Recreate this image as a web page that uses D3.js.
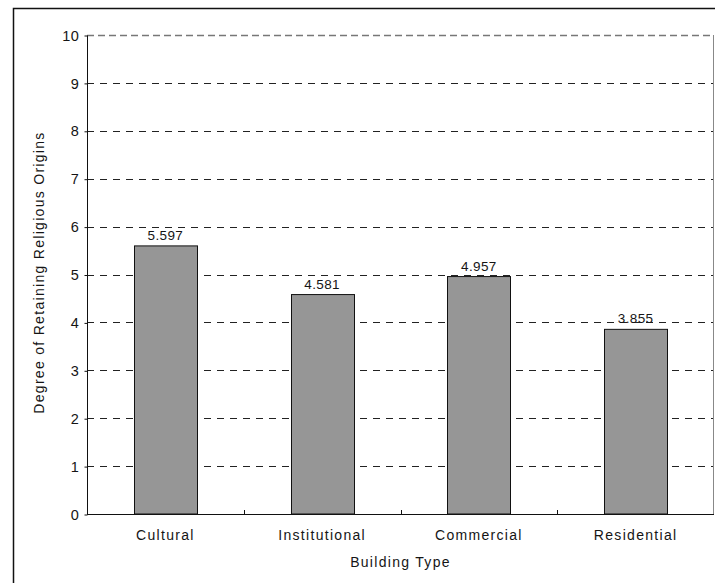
<!DOCTYPE html>
<html>
<head>
<meta charset="utf-8">
<script src="https://cdn.jsdelivr.net/npm/d3@7"></script>
<style>
  html, body { margin: 0; padding: 0; background: #fff; }
  svg text { font-family: "Liberation Sans", Arial, sans-serif; fill: #151515; }
</style>
</head>
<body>
<svg id="chart" width="715" height="583"></svg>
<script>
// Building types and their mean scores
const categories = ["Cultural", "Institutional", "Commercial", "Residential"];
const values = [5.597, 4.581, 4.957, 3.855];
const yTicks = [0, 1, 2, 3, 4, 5, 6, 7, 8, 9, 10];

const svg = d3.select("#chart");
const margin = { left: 87, top: 35, right: 1, bottom: 69 };
const W = 715, H = 583;
const x0 = margin.left, x1 = W - margin.right, y0 = H - margin.bottom, y1 = margin.top;

// outer frame
svg.append("rect")
  .attr("x", 13.5).attr("y", 8.5)
  .attr("width", 720).attr("height", 600)
  .attr("fill", "none").attr("stroke", "#111").attr("stroke-width", 1.5);

const x = d3.scaleBand().domain(categories).range([x0, x1]).paddingInner(0).paddingOuter(0);
const y = d3.scaleLinear().domain([0, 10]).range([y0, y1]);

// horizontal dashed gridlines
svg.append("g").selectAll("line")
  .data(yTicks.filter(d => d > 0 && d < 10))
  .join("line")
  .attr("x1", x0).attr("x2", x1)
  .attr("y1", d => Math.round(y(d)) + 0.5).attr("y2", d => Math.round(y(d)) + 0.5)
  .attr("stroke", "#222").attr("stroke-dasharray", "7,6");

// top and right plot border
svg.append("line")
  .attr("x1", x0).attr("x2", x1)
  .attr("y1", Math.round(y(10)) + 0.5).attr("y2", Math.round(y(10)) + 0.5)
  .attr("stroke", "#777").attr("stroke-width", 1.5).attr("stroke-dasharray", "7,4");
svg.append("line")
  .attr("x1", x1 - 0.5).attr("x2", x1 - 0.5)
  .attr("y1", y(10)).attr("y2", y0)
  .attr("stroke", "#888");

// bars
const barW = 63;
svg.append("g").selectAll("rect")
  .data(categories)
  .join("rect")
  .attr("x", (d) => Math.round(x(d) + x.bandwidth() / 2 - barW / 2) + 0.5)
  .attr("y", (d, i) => y(values[i]))
  .attr("width", barW)
  .attr("height", (d, i) => y0 - y(values[i]))
  .attr("fill", "#969696")
  .attr("stroke", "#111").attr("stroke-width", 1);

// value labels
svg.append("g").selectAll("text")
  .data(categories)
  .join("text")
  .attr("x", d => x(d) + x.bandwidth() / 2)
  .attr("y", (d, i) => y(values[i]) - 6)
  .attr("text-anchor", "middle")
  .attr("font-size", 13.5)
  .attr("letter-spacing", "0.4")
  .text((d, i) => values[i].toFixed(3));

// y axis
const yAxis = d3.axisLeft(y).tickValues(yTicks).tickSize(3).tickPadding(5).tickFormat(d3.format("d"));
const gy = svg.append("g").attr("transform", `translate(${x0 + 0.5},0.5)`).call(yAxis);
gy.select(".domain").attr("stroke", "#111").attr("d", `M0,${y1}V${y0}`);
gy.selectAll(".tick line").attr("stroke", "#111");
gy.selectAll(".tick text").attr("font-size", 14.5).attr("fill", "#151515").attr("letter-spacing", "0.6");

// x axis
const xAxis = d3.axisBottom(x).tickSize(0).tickPadding(16);
const gx = svg.append("g").attr("transform", `translate(0,${y0 + 0.5})`).call(xAxis);
gx.select(".domain").attr("stroke", "#111").attr("d", `M${x0},0H${x1}`);
gx.selectAll(".tick text").attr("font-size", 14).attr("fill", "#151515").attr("letter-spacing", "1.3");
// category boundary ticks
svg.append("g").selectAll("line")
  .data(categories.slice(1))
  .join("line")
  .attr("x1", d => Math.round(x(d)) + 0.5).attr("x2", d => Math.round(x(d)) + 0.5)
  .attr("y1", y0 - 4).attr("y2", y0)
  .attr("stroke", "#111");

// axis titles
svg.append("text")
  .attr("x", (x0 + x1) / 2).attr("y", 567)
  .attr("text-anchor", "middle").attr("font-size", 14)
  .attr("letter-spacing", "1.3")
  .text("Building Type");
svg.append("text")
  .attr("transform", `translate(44,${(y0 + y1) / 2 - 2}) rotate(-90)`)
  .attr("text-anchor", "middle").attr("font-size", 14)
  .attr("letter-spacing", "1.3")
  .text("Degree of Retaining Religious Origins");
</script>
</body>
</html>
